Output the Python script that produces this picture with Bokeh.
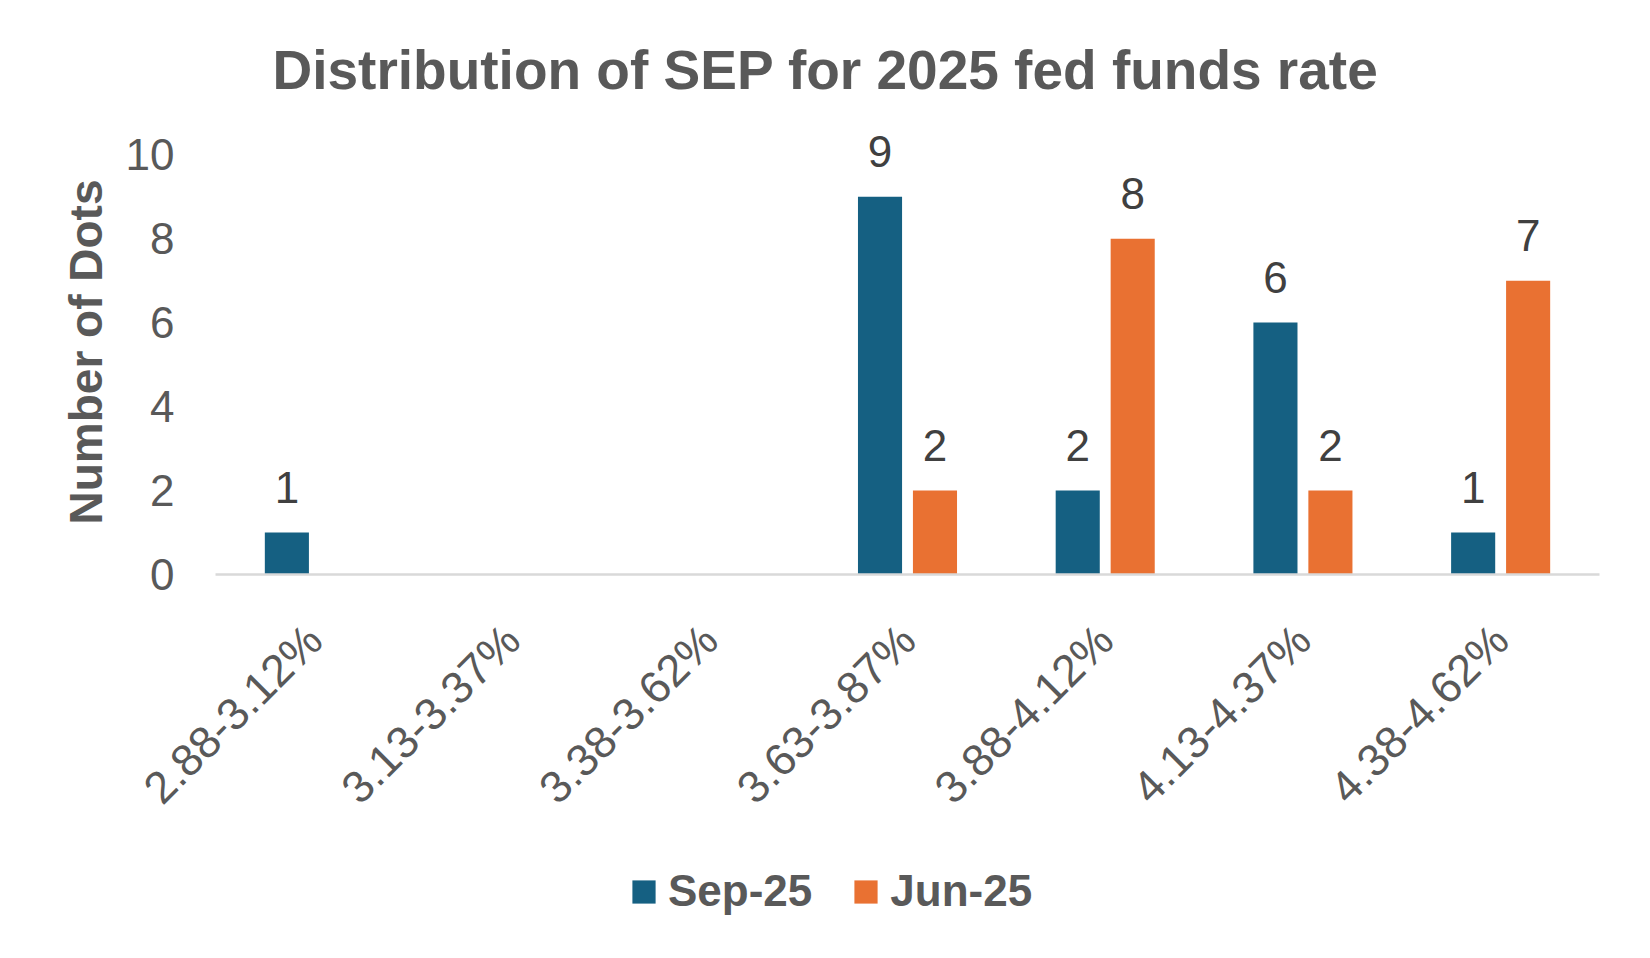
import math
from bokeh.plotting import figure
from bokeh.layouts import column
from bokeh.models import (ColumnDataSource, FactorRange, Range1d, FixedTicker,
                          Legend, LegendItem, LabelSet)
from bokeh.core.properties import value
from bokeh.transform import dodge
from bokeh.embed import file_html
from bokeh.resources import INLINE

categories = ["2.88-3.12%", "3.13-3.37%", "3.38-3.62%", "3.63-3.87%",
              "3.88-4.12%", "4.13-4.37%", "4.38-4.62%"]
sep_25 = [1, 0, 0, 9, 2, 6, 1]
jun_25 = [0, 0, 0, 2, 8, 2, 7]
y_ticks = [0, 2, 4, 6, 8, 10]
series_names = ["Sep-25", "Jun-25"]
colors = ["#156082", "#E97132"]

FONT = "Liberation Sans"
GREY = "#595959"

src = ColumnDataSource(dict(cat=categories, sep=sep_25, jun=jun_25))

p = figure(width=1634, height=840,
           x_range=FactorRange(factors=categories),
           y_range=Range1d(0, 10.6),
           output_backend="svg", toolbar_location=None,
           title="Distribution of SEP for 2025 fed funds rate",
           min_border_left=215, min_border_right=35,
           min_border_top=129, min_border_bottom=266)

p.title.align = "left"
p.title.offset = 57
p.title.standoff = 58
p.title.text_font = FONT
p.title.text_font_size = "55px"
p.title.text_font_style = "bold"
p.title.text_color = GREY

p.outline_line_color = None
p.xgrid.grid_line_color = None
p.ygrid.grid_line_color = None

off = 0.139
bw = 0.223
p.vbar(x=dodge("cat", -off, range=p.x_range), top="sep", width=bw,
       source=src, fill_color=colors[0], line_color=None)
p.vbar(x=dodge("cat", off, range=p.x_range), top="jun", width=bw,
       source=src, fill_color=colors[1], line_color=None)

# data labels (only non-empty values)
for vals, o in ((sep_25, -off), (jun_25, off)):
    cats = [c for c, v in zip(categories, vals) if v > 0]
    vs = [v for v in vals if v > 0]
    lsrc = ColumnDataSource(dict(cat=cats, val=vs, txt=[str(v) for v in vs]))
    p.add_layout(LabelSet(x=dodge("cat", o, range=p.x_range), y="val", text="txt",
                          source=lsrc, y_offset=30, text_align="center",
                          text_baseline="alphabetic", text_font=value(FONT),
                          text_font_size=value("44px"), text_color="#404040"))

# y axis
p.yaxis.ticker = FixedTicker(ticks=y_ticks)
p.yaxis.axis_line_color = None
p.yaxis.major_tick_line_color = None
p.yaxis.minor_tick_line_color = None
p.yaxis.major_label_text_font = FONT
p.yaxis.major_label_text_font_size = "44px"
p.yaxis.major_label_text_color = GREY
p.yaxis.major_label_standoff = 35
p.yaxis.axis_label = "Number of Dots"
p.yaxis.axis_label_text_font = FONT
p.yaxis.axis_label_text_font_size = "46px"
p.yaxis.axis_label_text_font_style = "bold"
p.yaxis.axis_label_text_color = GREY
p.yaxis.axis_label_standoff = 11

# x axis
p.xaxis.axis_line_color = "#d9d9d9"
p.xaxis.axis_line_width = 2.5
p.xaxis.major_tick_line_color = None
p.xaxis.minor_tick_line_color = None
p.xaxis.major_label_orientation = math.pi / 4
p.xaxis.major_label_text_font = FONT
p.xaxis.major_label_text_font_size = "45px"
p.xaxis.major_label_text_color = GREY
p.xaxis.major_label_standoff = 52

# legend strip below the chart (its frame aligns with the chart frame)
lg = figure(width=1634, height=102, x_range=Range1d(0, 1), y_range=Range1d(0, 1),
            output_backend="svg", toolbar_location=None,
            x_axis_type=None, y_axis_type=None,
            min_border_left=0, min_border_right=0, min_border_top=0, min_border_bottom=0)
lg.outline_line_color = None
lg.xgrid.grid_line_color = None
lg.ygrid.grid_line_color = None
r1 = lg.vbar(x=[0.5], top=[0], bottom=[0], width=0.1, fill_color=colors[0], line_color=None)
r2 = lg.vbar(x=[0.5], top=[0], bottom=[0], width=0.1, fill_color=colors[1], line_color=None)

legend = Legend(items=[LegendItem(label=series_names[0], renderers=[r1]),
                       LegendItem(label=series_names[1], renderers=[r2])],
                orientation="horizontal", location=(414, 26),
                glyph_width=29, glyph_height=29, label_standoff=10, spacing=39,
                padding=0, margin=0, border_line_color=None,
                background_fill_alpha=0,
                label_text_font=FONT, label_text_font_size="44px",
                label_text_font_style="bold", label_text_color=GREY)
lg.add_layout(legend)

open("out.html", "w").write(file_html(column(p, lg, spacing=0), INLINE))
